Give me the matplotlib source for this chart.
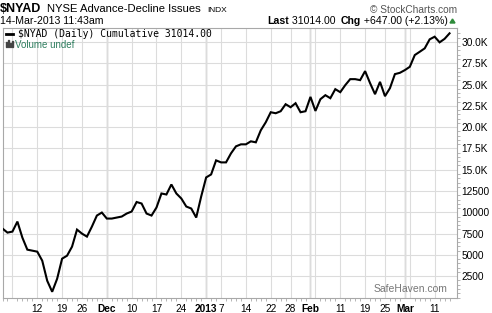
import matplotlib
matplotlib.use("Agg")
import matplotlib.pyplot as plt
from matplotlib.lines import Line2D
from matplotlib.patches import Rectangle, Polygon
from matplotlib.transforms import ScaledTranslation

# ---------------- data ----------------
dates = [
    "2012-11-01", "2012-11-02", "2012-11-05", "2012-11-06", "2012-11-07", "2012-11-08", "2012-11-09",
    "2012-11-12", "2012-11-13", "2012-11-14", "2012-11-15", "2012-11-16", "2012-11-19", "2012-11-20",
    "2012-11-21", "2012-11-23", "2012-11-26", "2012-11-27", "2012-11-28", "2012-11-29", "2012-11-30",
    "2012-12-03", "2012-12-04", "2012-12-05", "2012-12-06", "2012-12-07", "2012-12-10", "2012-12-11",
    "2012-12-12", "2012-12-13", "2012-12-14", "2012-12-17", "2012-12-18", "2012-12-19", "2012-12-20",
    "2012-12-21", "2012-12-24", "2012-12-26", "2012-12-27", "2012-12-28", "2012-12-31",
    "2013-01-02", "2013-01-03", "2013-01-04", "2013-01-07", "2013-01-08", "2013-01-09", "2013-01-10",
    "2013-01-11", "2013-01-14", "2013-01-15", "2013-01-16", "2013-01-17", "2013-01-18", "2013-01-22",
    "2013-01-23", "2013-01-24", "2013-01-25", "2013-01-28", "2013-01-29", "2013-01-30", "2013-01-31",
    "2013-02-01", "2013-02-04", "2013-02-05", "2013-02-06", "2013-02-07", "2013-02-08", "2013-02-11",
    "2013-02-12", "2013-02-13", "2013-02-14", "2013-02-15", "2013-02-19", "2013-02-20", "2013-02-21",
    "2013-02-22", "2013-02-25", "2013-02-26", "2013-02-27", "2013-02-28",
    "2013-03-01", "2013-03-04", "2013-03-05", "2013-03-06", "2013-03-07", "2013-03-08", "2013-03-11",
    "2013-03-12", "2013-03-13", "2013-03-14",
]
values = [
    8090, 7619, 7737, 8914, 7030, 5617, 5500,
    5382, 4322, 1967, 671, 2202, 4557, 4911,
    5970, 7972, 7501, 7148, 8326, 9621, 9974,
    9268, 9268, 9386, 9503, 9857, 10092, 11211,
    11034, 9857, 9621, 10563, 12212, 12094, 13271,
    12212, 11623, 10681, 10445, 9386, 11858,
    14096, 14449, 16098, 15862, 15862, 16922, 17746,
    17982, 17982, 18335, 18217, 19631, 20573, 21750,
    21633, 21868, 22692, 22339, 22810, 21750, 21868,
    23552, 21903, 23281, 23752, 23399, 24459, 24105,
    24929, 25636, 25636, 25518, 26578, 25165, 23869,
    25318, 23634, 24576, 26225, 26378,
    26696, 27085, 28463, 28851, 29251, 30311, 30618,
    29958, 30367, 31014,
]

grid_dates = ["2012-11-05", "2012-11-12", "2012-11-19", "2012-11-26", "2012-12-03", "2012-12-10",
              "2012-12-17", "2012-12-24", "2013-01-02", "2013-01-07", "2013-01-14", "2013-01-22",
              "2013-01-28", "2013-02-01", "2013-02-04", "2013-02-11", "2013-02-19", "2013-02-25",
              "2013-03-01", "2013-03-04", "2013-03-11"]
grid_labels = ["", "12", "19", "26", "Dec", "10", "17", "24", "2013", "7", "14", "22", "28",
               "Feb", "", "11", "19", "25", "Mar", "", "11"]
month_dates = ["2012-12-03", "2013-01-02", "2013-02-01", "2013-03-01"]
bold_labels = ["Dec", "2013", "Feb", "Mar"]

y_ticks = [2500, 5000, 7500, 10000, 12500, 15000, 17500, 20000, 22500, 25000, 27500, 30000]
y_labels = ["2500", "5000", "7500", "10000", "12500", "15.0K", "17.5K", "20.0K",
            "22.5K", "25.0K", "27.5K", "30.0K"]

# ---------------- figure ----------------
W, H = 492, 313
fig = plt.figure(figsize=(W / 100, H / 100), dpi=100)
FONT = "Liberation Sans"


def fx(px):
    return px / W


def fy(py):
    return 1 - py / H


left, right, top, bottom = 2.5, 457, 28, 297.5
ax = fig.add_axes([fx(left), fy(bottom), fx(right - left), (bottom - top) / H])

x = list(range(len(dates)))
ax.plot(x, values, color="black", lw=1.5, solid_joinstyle="miter", zorder=5)

ax.set_xlim(0.6, 91.5)
ax.set_ylim(0, 31640)

# gridlines
gx = [dates.index(d) for d in grid_dates]
ax.set_xticks(gx)
ax.set_xticklabels(grid_labels, fontfamily=FONT, fontsize=7.3)
for lab in ax.get_xticklabels():
    if lab.get_text() in bold_labels:
        lab.set_fontweight("bold")
    if lab.get_text() == "7":
        lab.set_transform(lab.get_transform() + ScaledTranslation(-0.045, 0, fig.dpi_scale_trans))
ax.set_xticks(x, minor=True)

ax.set_yticks(y_ticks)
ax.set_yticklabels(y_labels, fontfamily=FONT, fontsize=7.3)
ax.set_yticks(range(0, 31500, 500), minor=True)
ax.yaxis.tick_right()

ax.grid(True, which="major", color="#dcdcdc", lw=0.8, zorder=0)
for d in month_dates:
    ax.axvline(dates.index(d), color="#b8b8b8", lw=1.0, zorder=1)

ax.tick_params(axis="x", which="major", length=0, pad=5, colors="black")
ax.tick_params(axis="x", which="minor", length=2, width=0.6, color="#aaaaaa", direction="out")
ax.tick_params(axis="y", which="major", length=0, pad=3, colors="black")
ax.tick_params(axis="y", which="minor", length=2, width=0.6, color="#aaaaaa", direction="out",
               right=True, left=False)
for s in ax.spines.values():
    s.set_color("#a8a8a8")
    s.set_linewidth(0.8)

# ---------------- header text ----------------
fig.text(fx(0), fy(11.5), "$NYAD", fontfamily=FONT, fontweight="bold", fontsize=9.0, va="baseline")
fig.text(fx(47), fy(11.5), "NYSE Advance-Decline Issues", fontfamily=FONT, fontsize=8.1, va="baseline")
fig.text(fx(207), fy(11.5), "INDX", fontfamily=FONT, fontsize=6.0, va="baseline")
fig.text(fx(0), fy(24), "14-Mar-2013 11:43am", fontfamily=FONT, fontsize=7.6, va="baseline")

fig.text(fx(457), fy(13), "\u00a9 StockCharts.com", fontfamily=FONT, fontsize=7.3, color="#555555",
         ha="right", va="baseline")

# "Last ... Chg ..." line built from pieces, right-aligned before the triangle
pieces = [("Last", "bold"), (" 31014.00  ", "normal"), ("Chg", "bold"), (" +647.00 (+2.13%)", "normal")]
fig.canvas.draw()
renderer = fig.canvas.get_renderer()
widths = []
for s, wgt in pieces:
    t = fig.text(0, 0, s, fontfamily=FONT, fontsize=7.6, fontweight=wgt)
    widths.append(t.get_window_extent(renderer).width)
    t.remove()
xpos = 448 - sum(widths)
for (s, wgt), w in zip(pieces, widths):
    fig.text(fx(xpos), fy(24), s, fontfamily=FONT, fontsize=7.6, fontweight=wgt, va="baseline")
    xpos += w
fig.add_artist(Polygon([[fx(450), fy(23)], [fx(455), fy(23)], [fx(452.5), fy(19)]],
                       closed=True, color="#2e8b3a", transform=fig.transFigure))

# ---------------- in-plot legend ----------------
fig.add_artist(Line2D([fx(6), fx(13)], [fy(34), fy(34)], color="black", lw=2,
                      transform=fig.transFigure))
fig.text(fx(18), fy(37), "$NYAD (Daily) Cumulative 31014.00", fontfamily="DejaVu Sans Mono",
         fontsize=7.0, va="baseline")
for bx, bh in [(6, 5), (8, 7), (10, 4), (12, 6)]:
    fig.add_artist(Rectangle((fx(bx), fy(47)), fx(1.3), bh / H, color="#444444",
                             transform=fig.transFigure))
fig.text(fx(15.5), fy(47.5), "Volume undef", fontfamily=FONT, fontsize=7.0, color="#2e7d5e",
         va="baseline")

fig.text(fx(447), fy(292.5), "SafeHaven.com", fontfamily=FONT, fontsize=7.5, color="#777777",
         ha="right", va="baseline")

fig.savefig("out.png", dpi=100)
